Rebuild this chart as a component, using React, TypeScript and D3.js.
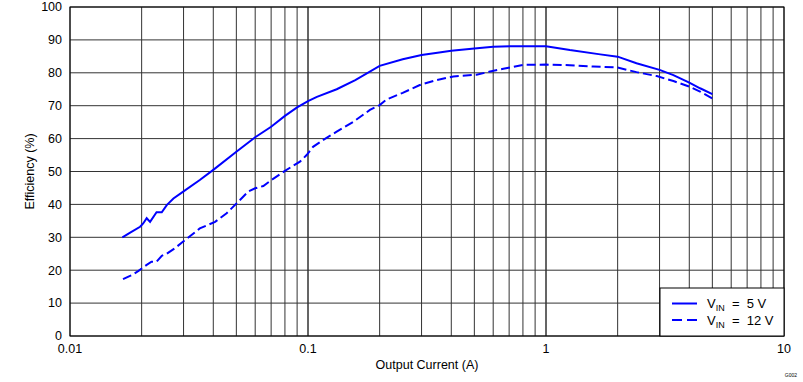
import React from "react";
import * as d3 from "d3";

const currentSolid = [0.0166, 0.0179, 0.0197, 0.0203, 0.021, 0.0217, 0.0231, 0.0243, 0.0255, 0.0272, 0.0299, 0.0351, 0.04, 0.05, 0.06, 0.07, 0.08, 0.09, 0.1, 0.109, 0.132, 0.158, 0.2, 0.25, 0.3, 0.35, 0.4, 0.5, 0.6, 0.73, 1.0, 1.26, 1.69, 2.0, 2.4, 3.0, 3.43, 4.0, 4.44, 5.0];
const eff5V = [30.0, 31.4, 33.2, 34.2, 35.8, 34.7, 37.6, 37.6, 39.8, 41.8, 43.9, 47.4, 50.5, 56.0, 60.4, 63.6, 66.9, 69.5, 71.4, 72.7, 75.0, 77.8, 82.1, 84.1, 85.4, 86.1, 86.7, 87.4, 87.9, 88.1, 88.1, 86.9, 85.6, 84.9, 82.9, 80.9, 79.3, 77.0, 75.3, 73.5];

const current12 = [0.0167, 0.0184, 0.0194, 0.021, 0.022, 0.0231, 0.0243, 0.0255, 0.0276, 0.0299, 0.0351, 0.0407, 0.0455, 0.0501, 0.0561, 0.06, 0.0649, 0.0702, 0.08, 0.0925, 0.0987, 0.105, 0.116, 0.132, 0.155, 0.182, 0.2, 0.214, 0.25, 0.295, 0.347, 0.408, 0.511, 0.582, 0.662, 0.8, 1.0, 1.26, 1.58, 2.0, 2.4, 2.92, 3.43, 4.0, 4.44, 5.0];
const eff12V = [17.3, 18.7, 19.8, 21.6, 22.6, 22.6, 24.4, 25.0, 26.7, 28.7, 32.7, 34.7, 37.3, 40.3, 43.9, 44.9, 45.6, 47.4, 50.2, 53.0, 55.0, 57.5, 59.6, 62.1, 65.1, 68.7, 70.2, 71.9, 73.9, 76.3, 77.8, 78.9, 79.4, 80.4, 81.2, 82.4, 82.5, 82.3, 81.9, 81.6, 80.2, 79.0, 77.5, 75.8, 74.3, 72.2];

const yTicks = [0, 10, 20, 30, 40, 50, 60, 70, 80, 90, 100];
const xTickLabels = [0.01, 0.1, 1, 10];
const legendLabels = [
  { sub: "IN", rest: "  =  5 V" },
  { sub: "IN", rest: "  =  12 V" },
];

const W = 803, H = 382;
const L = 70, R = 784, T = 7, B = 336;
const FONT = "'Liberation Sans', Arial, sans-serif";

export default function App() {
  const x = d3.scaleLog().domain([0.01, 10]).range([L, R]);
  const y = d3.scaleLinear().domain([0, 100]).range([B, T]);

  const minorX: number[] = [];
  for (const dec of [0.01, 0.1, 1]) {
    for (let k = 1; k <= 10; k++) minorX.push(dec * k);
  }

  const line = d3.line<[number, number]>().x(d => x(d[0])).y(d => y(d[1]));
  const d5 = line(currentSolid.map((c, i) => [c, eff5V[i]] as [number, number])) || "";
  const d12 = line(current12.map((c, i) => [c, eff12V[i]] as [number, number])) || "";

  return (
    <svg width={W} height={H} style={{ position: "absolute", left: 0, top: 0, background: "#fff" }} fontFamily={FONT}>
      <rect x={0} y={0} width={W} height={H} fill="#fff" />
      {minorX.map((v, i) => (
        <line key={"gx" + i} x1={x(v)} x2={x(v)} y1={T} y2={B} stroke="#333" strokeWidth={1} />
      ))}
      {yTicks.map(t => (
        <line key={"gy" + t} x1={L} x2={R} y1={y(t)} y2={y(t)} stroke="#333" strokeWidth={1} />
      ))}
      <rect x={L} y={T} width={R - L} height={B - T} fill="none" stroke="#000" strokeWidth={1} />
      <path d={d5} fill="none" stroke="#0000ff" strokeWidth={2} />
      <path d={d12} fill="none" stroke="#0000ff" strokeWidth={2} strokeDasharray="9,4" />
      {yTicks.map(t => (
        <text key={"yt" + t} x={62} y={y(t)} dy="0.35em" textAnchor="end" fontSize={12.5} fill="#000">{t}</text>
      ))}
      {xTickLabels.map(t => (
        <text key={"xt" + t} x={x(t)} y={349} dy="0.35em" textAnchor="middle" fontSize={12.5} fill="#000">{t}</text>
      ))}
      <text transform={`translate(30,${(T + B) / 2}) rotate(-90)`} textAnchor="middle" dy="0.35em" fontSize={12.5} fill="#000">Efficiency (%)</text>
      <text x={(L + R) / 2} y={365} textAnchor="middle" dy="0.35em" fontSize={12.5} fill="#000">Output Current (A)</text>
      <rect x={660} y={288} width={R - 660} height={B - 288} fill="#fff" stroke="#000" strokeWidth={1} />
      {legendLabels.map((lg, i) => {
        const yy = 303.5 + i * 16.5;
        return (
          <g key={"lg" + i}>
            <line x1={672} x2={697} y1={yy} y2={yy} stroke="#0000ff" strokeWidth={2} strokeDasharray={i === 1 ? "10,5" : undefined} />
            <text x={707} y={yy} dy="0.35em" fontSize={13} fill="#000" style={{ whiteSpace: "pre" }}>
              V<tspan fontSize={9} dy="3">{lg.sub}</tspan><tspan dy="-3">{lg.rest}</tspan>
            </text>
          </g>
        );
      })}
      <text x={797} y={377} textAnchor="end" fontSize={5} fill="#000">G002</text>
    </svg>
  );
}
